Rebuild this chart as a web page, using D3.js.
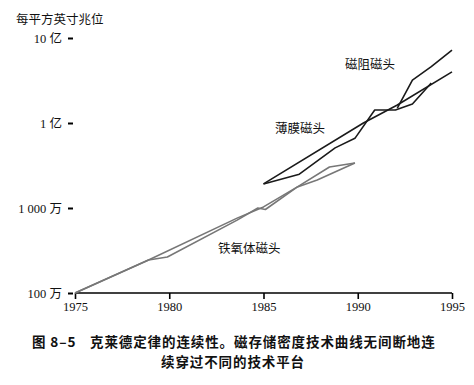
<!DOCTYPE html>
<html>
<head>
<meta charset="utf-8">
<script src="https://cdn.jsdelivr.net/npm/d3@7"></script>
<style>
  body { margin: 0; background: #fff; }
  svg { display: block; }
</style>
</head>
<body>
<svg id="chart" width="474" height="385"></svg>
<script>
// axis ticks
var yearTicks = [1975, 1980, 1985, 1990, 1995];
var densityTicks = [1e6, 1e7, 1e8, 1e9];
var densityLabels = ["100 万", "1 000 万", "1 亿", "10 亿"];

// ferrite heads (two curves)
var ferriteYearsA = [1975, 1978.9, 1983.6, 1985.0, 1986.8, 1988.5, 1989.85];
var ferriteValsA  = [1e6, 2.44e6, 7.6e6, 1.03e7, 1.77e7, 3.04e7, 3.38e7];
var ferriteYearsB = [1975, 1978.9, 1979.9, 1983.6, 1984.7, 1985.1, 1986.8, 1987.85, 1989.85];
var ferriteValsB  = [1e6, 2.44e6, 2.65e6, 7.2e6, 1e7, 9.6e6, 1.77e7, 2.13e7, 3.38e7];

// thin-film heads
var filmYearsA = [1985.0, 1990.3, 1992.1, 1995];
var filmValsA  = [1.92e7, 1e8, 1.63e8, 4e8];
var filmYearsB = [1985.0, 1986.9, 1988.8, 1989.85, 1990.9, 1992.0, 1992.9, 1993.9];
var filmValsB  = [1.92e7, 2.5e7, 5.1e7, 6.6e7, 1.42e8, 1.42e8, 1.67e8, 2.95e8];

// magnetoresistive heads
var mrYearsA = [1992.1, 1992.9, 1993.9, 1995];
var mrValsA  = [1.5e8, 3.2e8, 4.6e8, 7.2e8];

var svg = d3.select("#chart");
var serif = "'Liberation Serif', 'Noto Sans CJK SC', serif";
var cjk = "'Noto Sans CJK SC', sans-serif";

var x = d3.scaleLinear().domain([1975, 1995]).range([75, 452]);
var y = d3.scaleLog().domain([1e6, 1e9]).range([293, 38]);

function pairs (years, vals) {
    return years.map(function (yr, i) { return [yr, vals[i]]; });
}

var line = d3.line()
    .x(function (d) { return x(d[0]); })
    .y(function (d) { return y(d[1]); });

// x axis
var xAxis = svg.append("g")
    .attr("transform", "translate(0,293)")
    .call(d3.axisBottom(x).tickValues(yearTicks).tickFormat(d3.format("d")).tickSize(6).tickPadding(3));
xAxis.select(".domain").attr("d", "M75,0H452").attr("stroke", "#000").attr("stroke-width", 1.6);
xAxis.selectAll(".tick line").attr("stroke", "#000").attr("stroke-width", 1.6);
xAxis.selectAll(".tick text")
    .attr("font-family", serif)
    .attr("font-size", 12.5)
    .attr("fill", "#111");

// y ticks: short dashes only, no axis line
var yAxis = svg.append("g")
    .attr("transform", "translate(73,0)")
    .call(d3.axisLeft(y).tickValues(densityTicks)
        .tickFormat(function (d, i) { return densityLabels[i]; })
        .tickSize(5).tickPadding(6));
yAxis.select(".domain").remove();
yAxis.selectAll(".tick line").attr("stroke", "#000").attr("stroke-width", 2);
yAxis.selectAll(".tick text")
    .attr("font-family", serif)
    .attr("font-size", 12.5)
    .attr("fill", "#111");

// series
var series = [
    {years: ferriteYearsA, vals: ferriteValsA, color: "#777"},
    {years: ferriteYearsB, vals: ferriteValsB, color: "#777"},
    {years: filmYearsA, vals: filmValsA, color: "#1a1a1a"},
    {years: filmYearsB, vals: filmValsB, color: "#1a1a1a"},
    {years: mrYearsA, vals: mrValsA, color: "#1a1a1a"}
];
svg.append("g").selectAll("path")
    .data(series)
    .join("path")
    .attr("d", function (s) { return line(pairs(s.years, s.vals)); })
    .attr("fill", "none")
    .attr("stroke", function (s) { return s.color; })
    .attr("stroke-width", 1.6)
    .attr("stroke-linejoin", "round");

// unit label
svg.append("text")
    .attr("x", 16).attr("y", 24)
    .attr("font-family", serif).attr("font-size", 12.5).attr("fill", "#111")
    .text("每平方英寸兆位");

// series labels
var notes = [
    {text: "磁阻磁头", x: 345, y: 69},
    {text: "薄膜磁头", x: 275, y: 133},
    {text: "铁氧体磁头", x: 218, y: 253}
];
svg.append("g").selectAll("text")
    .data(notes)
    .join("text")
    .attr("x", function (d) { return d.x; })
    .attr("y", function (d) { return d.y; })
    .attr("font-family", serif).attr("font-size", 12.5).attr("fill", "#111")
    .text(function (d) { return d.text; });

// caption
var cap = svg.append("g")
    .attr("font-family", cjk).attr("font-size", 13.5).attr("font-weight", 600)
    .attr("letter-spacing", 0.9).attr("fill", "#111");
cap.append("text").attr("x", 32).attr("y", 347).text("图 8–5");
cap.append("text").attr("x", 90).attr("y", 347).text("克莱德定律的连续性。磁存储密度技术曲线无间断地连");
cap.append("text").attr("x", 233).attr("y", 367).attr("text-anchor", "middle").text("续穿过不同的技术平台");
</script>
</body>
</html>
